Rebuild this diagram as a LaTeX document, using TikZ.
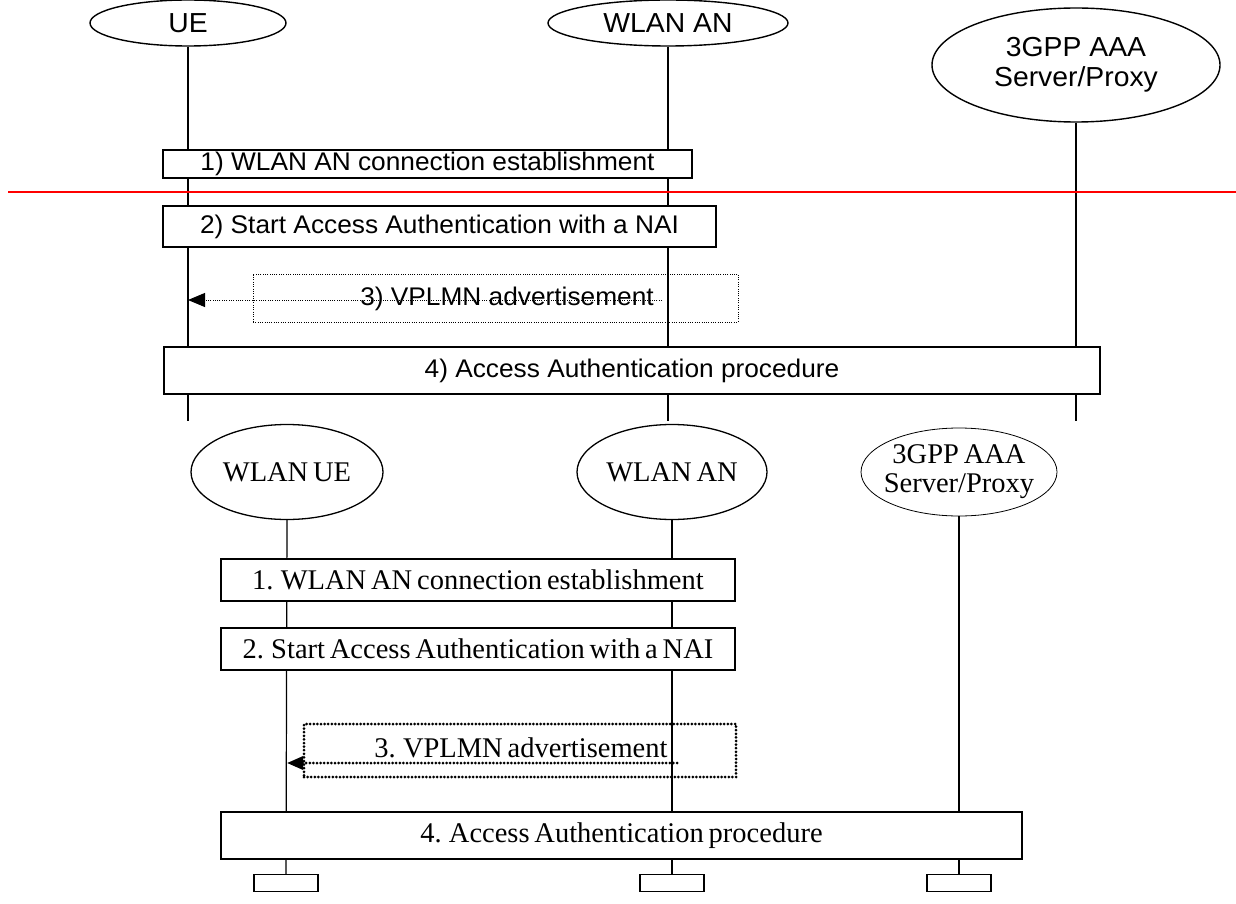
\documentclass[tikz,border=0pt]{standalone}
\usepackage{fontspec}
\setmainfont{Liberation Serif}
\newfontfamily\sansw{Liberation Sans}[FakeStretch=1.03]
\newfontfamily\serifw{Liberation Serif}
\newcommand\botselect{\serifw\fontsize{28.5}{29}\selectfont\spaceskip 0.17em plus 0.05em\relax}
\usetikzlibrary{arrows.meta,shapes.geometric}

\tikzset{
  topfont/.style={font=\sansw\fontsize{25.5}{29}\selectfont},
  entfont/.style={font=\sansw\fontsize{27.5}{30}\selectfont},
  botfont/.style={font=\botselect},
  topent/.style={draw, ellipse, line width=1.4pt, inner sep=0pt, align=center, entfont},
  botent/.style={draw, ellipse, line width=1.3pt, inner sep=0pt, align=center, botfont},
  toplife/.style={line width=1.3pt},
  botlife/.style={line width=1.2pt},
  topbox/.style={draw, fill=white, line width=1.4pt, inner sep=0pt, topfont},
  botbox/.style={draw, fill=white, line width=1.2pt, inner sep=0pt, botfont},
  dotbox/.style={draw, line width=1pt, dash pattern=on 1pt off 1.3pt},
  beadbox/.style={draw, line width=3pt, dash pattern=on 0pt off 3.6pt, line cap=round},
  endbox/.style={draw, fill=white, line width=1.2pt, minimum width=64, minimum height=17, inner sep=0pt},
  sepline/.style={draw=red, line width=1.6pt},
}

\begin{document}
\begin{tikzpicture}[x=1pt,y=-1pt]
\useasboundingbox (0,0) rectangle (1236,904);

% ---------- upper chart ----------
\node[topent, minimum width=196, minimum height=46] (ue) at (188,23) {UE};
\node[topent, minimum width=240, minimum height=46] (an) at (668,23) {WLAN AN};
\node[topent, minimum width=288, minimum height=114] (aaa) at (1076,65) {3GPP AAA\\Server/Proxy};

\coordinate (ueE) at (188,421);
\coordinate (anE) at (668,421);
\coordinate (aaaE) at (1076,421);
\draw[toplife] (ue.south) -- (ueE);
\draw[toplife] (an.south) -- (anE);
\draw[toplife] (aaa.south) -- (aaaE);

\node[topbox, minimum width=529, minimum height=28] (s1) at (427.5,164) {1) WLAN AN connection establishment};
\coordinate (sepL) at (8,192);
\coordinate (sepR) at (1236,192);
\draw[sepline] (sepL) -- (sepR);
\node[topbox, minimum width=553, minimum height=41] (s2) at (439.5,226.5) {2) Start Access Authentication with a NAI};

\node[dotbox, minimum width=485, minimum height=48] (s3) at (495.5,298) {};
\node[topfont, anchor=base] (s3t) at (507,305) {3) VPLMN advertisement};
\coordinate (s3a) at (662,300);
\draw[dotbox, -{Triangle[length=17pt,width=14pt]}] (s3a) -- (s3a -| ue);

\node[topbox, minimum width=936, minimum height=47] (s4) at (632,370.5) {4) Access Authentication procedure};

% ---------- lower chart ----------
\node[botent, minimum width=192, minimum height=95] (wue) at (287,472) {WLAN UE};
\node[botent, minimum width=190, minimum height=95] (wan) at (672,472) {WLAN AN};
\node[botent, line width=0.8pt, inner xsep=-6pt, minimum width=196, minimum height=88] (waaa) at (959,472) {3GPP AAA\\Server/Proxy};

\node[endbox] (wueE) at (286,883) {};
\node[endbox] (wanE) at (672,883) {};
\node[endbox] (waaaE) at (959,883) {};
\draw[botlife] (wue.south) -- (wueE.north);
\draw[botlife] (wan.south) -- (wanE.north);
\draw[botlife] (waaa.south) -- (waaaE.north);

\node[botbox, minimum width=514, minimum height=42] (b1) at (478,580) {1. WLAN AN connection establishment};
\node[botbox, minimum width=514, minimum height=42] (b2) at (478,649) {2. Start Access Authentication with a NAI};

\node[beadbox, minimum width=432, minimum height=53] (b3) at (520,750.5) {};
\node[botfont, anchor=base] (b3t) at (521,757) {3. VPLMN advertisement};
\coordinate (b3a) at (677,763);
\draw[beadbox, -{Triangle[length=16pt,width=13pt]}] (b3a) -- (b3a -| wue);

\node[botbox, minimum width=801, minimum height=47] (b4) at (621.5,835.5) {4. Access Authentication procedure};
\end{tikzpicture}
\end{document}
